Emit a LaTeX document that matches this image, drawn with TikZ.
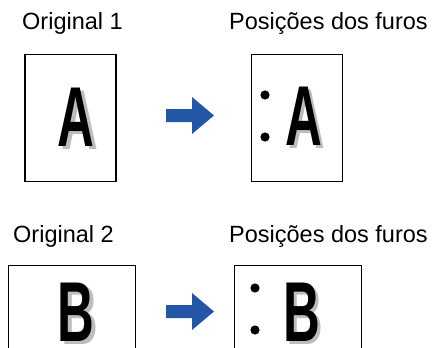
\documentclass[tikz,border=0pt]{standalone}
\usepackage{fontspec}
\setmainfont{Liberation Sans}
\usepackage{tikz}
\usetikzlibrary{positioning}
\definecolor{pushblue}{HTML}{2456A6}
\definecolor{shadegray}{HTML}{BDBDBD}

\begin{document}
\begin{tikzpicture}[x=1pt, y=-1pt,
    page/.style={rectangle, draw=black, line width=1.4pt, fill=white,
                 minimum width=91, minimum height=127, inner sep=0pt},
    widepage/.style={page, minimum width=127, minimum height=160},
    caption/.style={anchor=base west, inner sep=0pt,
                    font=\fontsize{23.5}{28}\selectfont},
    glyph/.style={anchor=base, inner sep=0pt, xscale=0.6,
                  font=\fontsize{85}{85}\selectfont\bfseries},
    shade/.style={glyph, text=shadegray},
    hole/.style={fill=black},
    pusharrow/.style={fill=pushblue}
]
    \clip (0,0) rectangle (432,348);

    % row 1
    \node[caption] (o1) at (22,29) {Original 1};
    \node[caption] (h1) at (229,29) {Posições dos furos};
    \node[page] (p1) at (70.5,118) {};
    \node[page] (p2) at (297,118) {};
    \node[shade] (a1s) at (79.5,149.5) {A};
    \node[glyph] (a1) at (76,146.5) {A};
    \node[shade] (a2s) at (307,148.5) {A};
    \node[glyph] (a2) at (303.5,145.5) {A};
    \fill[hole] (265,95) circle (4.6);
    \fill[hole] (265,137) circle (4.6);
    \coordinate (r1) at (166,115.5);
    \fill[pusharrow] (r1) ++(0,-6.5) -- ++(26,0) -- ++(0,-12) -- ++(22,18.5)
        -- ++(-22,18.5) -- ++(0,-12) -- ++(-26,0) -- cycle;

    % row 2
    \node[caption] (o2) at (13,242) {Original 2};
    \node[caption] (h2) at (229,242) {Posições dos furos};
    \node[widepage, anchor=north west] (p3) at (8,265) {};
    \node[widepage, anchor=north west] (p4) at (234,265) {};
    \node[shade] (b1s) at (79.5,344) {B};
    \node[glyph] (b1) at (76,341) {B};
    \node[shade] (b2s) at (305,344) {B};
    \node[glyph] (b2) at (301.5,341) {B};
    \fill[hole] (255,288) circle (4.6);
    \fill[hole] (255,330) circle (4.6);
    \coordinate (r2) at (166,311.5);
    \fill[pusharrow] (r2) ++(0,-6.5) -- ++(26,0) -- ++(0,-12) -- ++(22,18.5)
        -- ++(-22,18.5) -- ++(0,-12) -- ++(-26,0) -- cycle;
\end{tikzpicture}
\end{document}
